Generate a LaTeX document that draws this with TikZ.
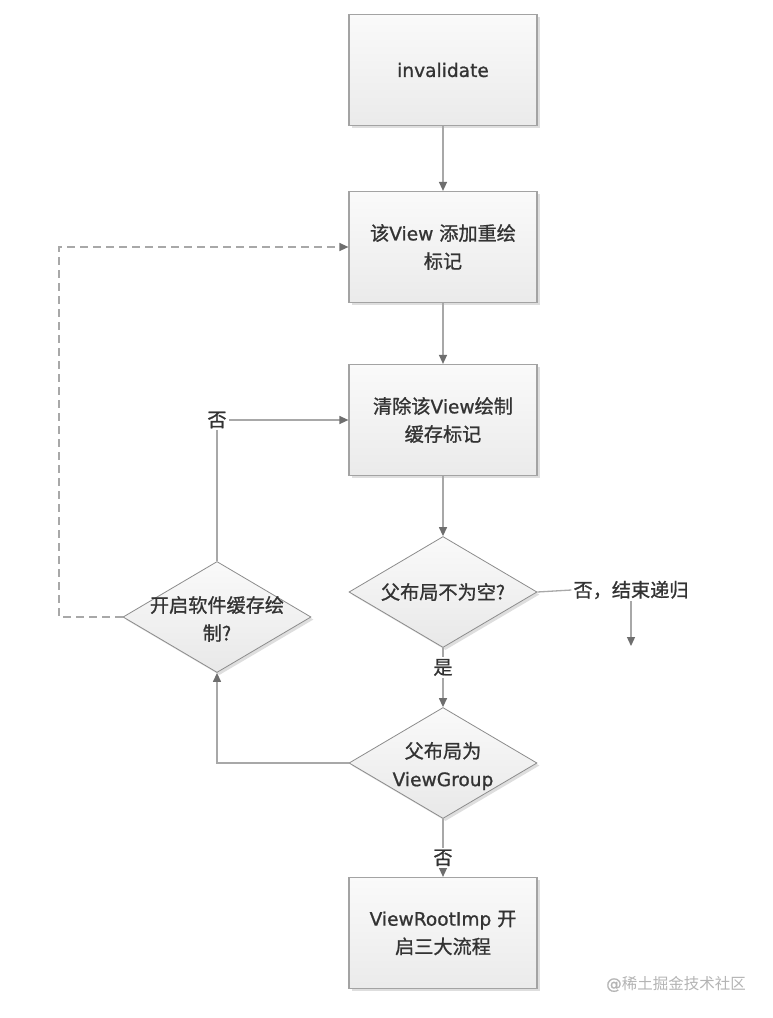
\documentclass[tikz,border=0pt]{standalone}
\usepackage{fontspec}
\setmainfont{DejaVu Sans}[FakeBold=1.0]
\newfontfamily\cjkf{Noto Sans CJK SC}[Scale=1.03, FakeBold=1.0]
\newfontfamily\cjkwm{Noto Sans CJK SC}
\usetikzlibrary{shapes.geometric,arrows.meta,shadows}
\definecolor{txt}{HTML}{333333}
\definecolor{linec}{HTML}{A8A8A8}
\definecolor{tipc}{HTML}{6E6E6E}
\definecolor{bord}{HTML}{A3A3A3}
\definecolor{wmc}{HTML}{B4B4B4}
\newcommand\zh[1]{{\cjkf #1}}
\tikzset{
  bigfont/.style={font=\fontsize{18.6}{28}\selectfont},
  box/.style={rectangle, draw=bord, line width=1.2pt, minimum width=188pt,
    minimum height=111pt, top color=white!98!black, bottom color=white!92!black,
    text=txt, align=center, bigfont,
    drop shadow={shadow xshift=2.5pt, shadow yshift=-2.5pt, fill=black!13, opacity=1}},
  dia/.style={diamond, draw=black!45, line width=0.8pt, inner sep=0pt,
    minimum width=188pt, minimum height=111pt, aspect=1.69,
    top color=white!98!black, bottom color=white!91!black,
    drop shadow={shadow xshift=2.5pt, shadow yshift=-2.5pt, fill=black!13, opacity=1}},
  dtext/.style={align=center, text=txt, bigfont, inner sep=0pt},
  lbl/.style={text=txt, bigfont, inner sep=2pt, align=center},
  line/.style={draw=linec, line width=1.3pt},
  conn/.style={line, -{Triangle[length=9pt,width=8pt,color=tipc]}},
  dashc/.style={line, dash pattern=on 8pt off 5pt, -{Triangle[length=9pt,width=8pt,color=tipc]}},
  wm/.style={text=wmc, font=\fontsize{15.5}{18}\selectfont}
}
\begin{document}
\begin{tikzpicture}[x=1pt,y=-1pt]
\useasboundingbox[fill=white] (0,0) rectangle (772,1018);
\node[box] (b1) at (443,70) {invalidate};
\node[box] (b2) at (443,247) {\zh{该}View \zh{添加重绘}\\\zh{标记}};
\node[box] (b3) at (443,420) {\zh{清除该}View\zh{绘制}\\\zh{缓存标记}};
\node[dia, label={[dtext]center:{\zh{父布局不为空?}}}] (d1) at (443,592) {};
\node[dia, label={[dtext, yshift=-2pt]center:{\zh{开启软件缓存绘}\\\zh{制?}}}] (d3) at (217,617) {};
\node[dia, label={[dtext, yshift=-3pt]center:{\zh{父布局为}\\ViewGroup}}] (d2) at (443,763) {};
\node[box] (b4) at (443,933) {ViewRootImp \zh{开}\\\zh{启三大流程}};
\node[lbl] (end) at (631,590) {\zh{否，结束递归}};
\coordinate (endc) at (631,646);
\coordinate (dl) at (59,617);
\node[wm] (wm) at (676,984) {@{\cjkwm 稀土掘金技术社区}};

\draw[conn] (b1) -- (b2);
\draw[conn] (b2) -- (b3);
\draw[conn] (b3) -- (d1);
\draw[conn] (d1) -- node[lbl, fill=white, pos=0.33] {\zh{是}} (d2);
\draw[conn] (d2) -- node[lbl, fill=white, pos=0.67] {\zh{否}} (b4);
\draw[conn] (d2.west) -| (d3.south);
\draw[conn] (d3.north) |- node[lbl, fill=white, pos=0.5] {\zh{否}} (b3.west);
\draw[dashc] (d3.west) -- (dl) |- (b2.west);
\draw[line] (d1.east) -- (end.west);
\draw[conn] (end.south) -- (endc);
\end{tikzpicture}
\end{document}
